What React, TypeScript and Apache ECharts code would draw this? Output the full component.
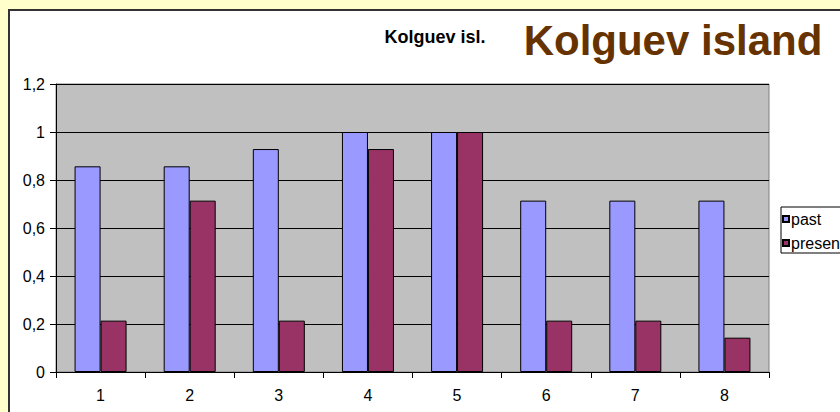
import React, { useEffect, useRef } from "react";
import * as echarts from "echarts";

const categories = ["1", "2", "3", "4", "5", "6", "7", "8"];
const pastValues = [0.857, 0.857, 0.929, 1, 1, 0.714, 0.714, 0.714];
const presentValues = [0.214, 0.714, 0.214, 0.929, 1, 0.214, 0.214, 0.143];
const seriesNames = ["past", "present"];

export default function App() {
  const ref = useRef<HTMLDivElement>(null);
  useEffect(() => {
    if (!ref.current) return;
    const chart = echarts.init(ref.current, null, { renderer: "svg" });
    const font = "'Liberation Sans', Arial, sans-serif";
    chart.setOption({
      animation: false,
      backgroundColor: "#FFFFCC",
      textStyle: { fontFamily: font },
      graphic: [
        {
          type: "rect",
          z: -10,
          shape: { x: 9, y: 10, width: 850, height: 420 },
          style: { fill: "#ffffff", stroke: "#333333", lineWidth: 2 },
        },
        {
          type: "text",
          x: 435,
          y: 37,
          style: {
            text: "Kolguev isl.",
            font: "bold 18px " + font,
            fill: "#000",
            align: "center",
            verticalAlign: "middle",
          },
        },
        {
          type: "text",
          x: 673,
          y: 40,
          style: {
            text: "Kolguev island",
            font: "bold 42px " + font,
            fill: "#663300",
            align: "center",
            verticalAlign: "middle",
          },
        },
      ],
      legend: {
        orient: "vertical",
        left: 781,
        top: 207,
        data: seriesNames,
        itemWidth: 6,
        itemHeight: 6,
        itemGap: 8,
        padding: [4, 4, 2, 1],
        borderColor: "#000",
        borderWidth: 1,
        backgroundColor: "#fff",
        textStyle: { fontSize: 16, color: "#000", fontFamily: font, padding: [0, 0, 0, -3] },
        icon: "rect",
      },
      grid: {
        left: 56,
        right: 71,
        top: 84,
        bottom: 40,
        show: true,
        backgroundColor: "#C0C0C0",
        borderColor: "#808080",
        borderWidth: 1,
      },
      xAxis: {
        type: "category",
        data: categories,
        axisLine: { lineStyle: { color: "#000", width: 1 } },
        axisTick: { show: true, length: 6, alignWithLabel: false, lineStyle: { color: "#000" } },
        axisLabel: { fontSize: 16, color: "#000", margin: 15, fontFamily: font },
      },
      yAxis: {
        type: "value",
        min: 0,
        max: 1.2,
        interval: 0.2,
        axisLine: { show: true, lineStyle: { color: "#000", width: 1 } },
        axisTick: { show: true, length: 6, lineStyle: { color: "#000" } },
        splitLine: { show: true, lineStyle: { color: "#000", width: 1 } },
        axisLabel: {
          fontSize: 16,
          color: "#000",
          margin: 11,
          fontFamily: font,
          formatter: (v: number) => String(Math.round(v * 10) / 10).replace(".", ","),
        },
      },
      series: [
        {
          name: seriesNames[0],
          type: "bar",
          data: pastValues,
          barWidth: 26,
          barGap: "0%",
          itemStyle: { color: "#9999FF", borderColor: "#000", borderWidth: 1 },
        },
        {
          name: seriesNames[1],
          type: "bar",
          data: presentValues,
          barWidth: 26,
          barGap: "0%",
          itemStyle: { color: "#993366", borderColor: "#000", borderWidth: 1 },
        },
      ],
    });
    return () => chart.dispose();
  }, []);
  return (
    <div
      ref={ref}
      style={{ position: "fixed", left: 0, top: 0, width: 840, height: 412 }}
    />
  );
}
